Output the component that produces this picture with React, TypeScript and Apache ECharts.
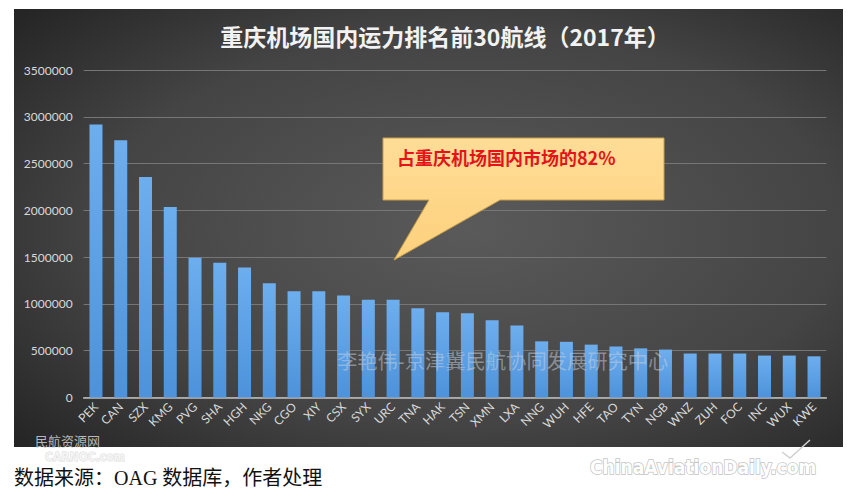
import React, { useEffect, useRef } from "react";
import * as echarts from "echarts";

const categories = ["PEK","CAN","SZX","KMG","PVG","SHA","HGH","NKG","CGO","XIY","CSX","SYX","URC","TNA","HAK","TSN","XMN","LXA","NNG","WUH","HFE","TAO","TYN","NGB","WNZ","ZUH","FOC","INC","WUX","KWE"];
const capacity = [2917000,2749000,2357000,2036000,1494000,1440000,1390000,1220000,1135000,1135000,1090000,1045000,1045000,955000,910000,900000,825000,770000,600000,595000,565000,545000,525000,512000,470000,470000,470000,448000,448000,440000];
const titleText = "重庆机场国内运力排名前30航线（2017年）";
const calloutText = "占重庆机场国内市场的82%";
const watermarkText = "李艳伟-京津冀民航协同发展研究中心";
const sourceText = "数据来源：OAG 数据库，作者处理";

export default function App() {
  const ref = useRef<HTMLDivElement>(null);
  useEffect(() => {
    document.body.style.margin = "0";
    const chart = echarts.init(ref.current!, null, { renderer: "svg" });
    chart.setOption({
      animation: false,
      backgroundColor: "#ffffff",
      grid: { left: 83.6, right: 23.6, top: 70, bottom: 98.5, containLabel: false },
      xAxis: {
        type: "category",
        data: categories,
        axisLine: { lineStyle: { color: "#bfbfbf", width: 1.5 } },
        axisTick: { show: false },
        axisLabel: { rotate: 45, color: "#d9d9d9", fontSize: 12, fontFamily: "Lato", margin: 7, interval: 0 },
      },
      yAxis: {
        type: "value",
        min: 0,
        max: 3500000,
        interval: 500000,
        axisLine: { show: false },
        axisTick: { show: false },
        axisLabel: {
          color: "#d9d9d9",
          fontSize: 12,
          fontFamily: "Lato",
          margin: 11,
          formatter: (v: number) => String(v),
        },
        splitLine: { lineStyle: { color: "#767676", width: 1 } },
      },
      series: [
        {
          type: "bar",
          data: capacity,
          barWidth: 13,
          z: 5,
          itemStyle: {
            color: new echarts.graphic.LinearGradient(0, 0, 0, 1, [
              { offset: 0, color: "#6daeee" },
              { offset: 1, color: "#4d92da" },
            ]),
          },
        },
      ],
      graphic: [
        {
          type: "rect",
          z: -100,
          shape: { x: 14, y: 9, width: 829, height: 438 },
          style: {
            fill: new echarts.graphic.RadialGradient(0.55, 0.5, 0.75, [
              { offset: 0, color: "#5a5a5a" },
              { offset: 0.6, color: "#444444" },
              { offset: 1, color: "#232323" },
            ]),
          },
        },
        {
          type: "text",
          z: 100,
          x: 445,
          y: 36,
          style: {
            text: titleText,
            fill: "#f2f2f2",
            font: "bold 23px 'Noto Sans CJK SC', sans-serif",
            align: "center",
            verticalAlign: "middle",
          },
        },
        {
          type: "polygon",
          z: 100,
          shape: {
            points: [[383, 138], [664, 138], [664, 200], [500, 200], [394, 260], [429, 200], [383, 200]],
          },
          style: {
            fill: new echarts.graphic.LinearGradient(0, 0, 0, 1, [
              { offset: 0, color: "#ffdd97" },
              { offset: 1, color: "#fdd07c" },
            ]),
            stroke: "#c9a04a",
            lineWidth: 1,
          },
        },
        {
          type: "text",
          z: 101,
          x: 397,
          y: 157,
          style: {
            text: calloutText,
            fill: "#e3141b",
            font: "bold 18px 'Noto Sans CJK SC', sans-serif",
            align: "left",
            verticalAlign: "middle",
          },
        },
        {
          type: "text",
          z: 101,
          x: 337,
          y: 362,
          style: {
            text: watermarkText,
            fill: "rgba(200,208,222,0.5)",
            font: "20.3px 'DejaVu Serif', 'Noto Sans CJK SC', serif",
            align: "left",
            verticalAlign: "middle",
          },
        },
        {
          type: "text",
          z: 101,
          x: 35,
          y: 440,
          style: {
            text: "民航资源网",
            fill: "rgba(210,210,210,0.85)",
            font: "13px 'Noto Sans CJK SC', sans-serif",
            align: "left",
            verticalAlign: "middle",
          },
        },
        {
          type: "text",
          z: 101,
          x: 45,
          y: 457,
          style: {
            text: "CARNOC.com",
            fill: "rgba(245,245,245,0.9)",
            stroke: "rgba(215,215,215,0.9)",
            lineWidth: 1,
            font: "bold 12px 'Liberation Sans Narrow', 'DejaVu Sans Condensed', sans-serif",
            align: "left",
            verticalAlign: "middle",
          },
        },
        {
          type: "text",
          z: 101,
          x: 14,
          y: 478,
          style: {
            text: sourceText,
            fill: "#111111",
            font: "20px 'Liberation Serif', 'Noto Sans CJK SC', serif",
            align: "left",
            verticalAlign: "middle",
          },
        },
        {
          type: "text",
          z: 101,
          x: 590,
          y: 467,
          style: {
            text: "ChinaAviationDaily.com",
            fill: "#ffffff",
            stroke: "#c4c4c4",
            lineWidth: 1.5,
            font: "bold 19px 'Liberation Sans Narrow', 'DejaVu Sans Condensed', sans-serif",
            align: "left",
            verticalAlign: "middle",
          },
        },
        {
          type: "polyline",
          z: 101,
          shape: { points: [[810, 440], [790, 458], [782, 452]] },
          style: { stroke: "#d0d0d0", lineWidth: 1.5, fill: "none" },
        },
      ],
    });
    return () => chart.dispose();
  }, []);
  return <div ref={ref} style={{ width: 850, height: 496 }} />;
}
